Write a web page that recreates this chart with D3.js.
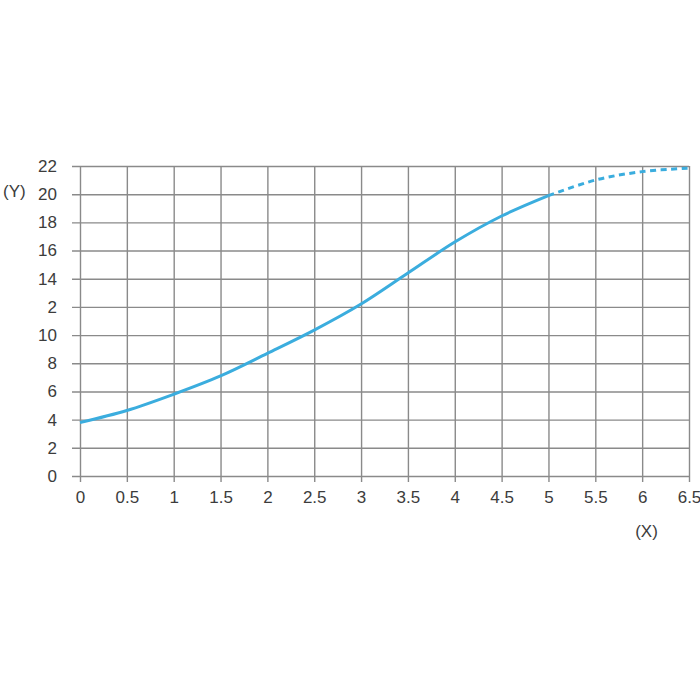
<!DOCTYPE html>
<html>
<head>
<meta charset="utf-8">
<script src="https://cdn.jsdelivr.net/npm/d3@7"></script>
<style>
  html, body { margin: 0; padding: 0; background: #fff; }
  text { font-family: "Liberation Sans", Arial, sans-serif; fill: #3c3c3c; }
</style>
</head>
<body>
<figure style="margin:0"></figure>
<script>
// values
const xs       = [0, 0.5, 1, 1.5, 2, 2.5, 3, 3.5, 4, 4.5, 5, 5.5, 6, 6.5]
const ys       = [3.8, 4.65, 5.8, 7.1, 8.7, 10.35, 12.2, 14.4, 16.6, 18.45, 19.9, 21.0, 21.6, 21.85]
const solidEnd = 5            // curve is dashed past this x
const xTicks   = [0, 0.5, 1, 1.5, 2, 2.5, 3, 3.5, 4, 4.5, 5, 5.5, 6, 6.5]
const yTicks   = [0, 2, 4, 6, 8, 10, 12, 14, 16, 18, 20, 22]
const yLabels  = ["0", "2", "4", "6", "8", "10", "2", "14", "16", "18", "20", "22"]

const margin = {top: 166, right: 11, bottom: 224, left: 80},
      width  = 700 - margin.left - margin.right,
      height = 700 - margin.top - margin.bottom,
      svG = d3.select('figure')
          .append("svg")
              .attr("width", 700)
              .attr("height", 700)
          .append("g")
              .attr("transform", "translate(" + margin.left + "," + margin.top + ")"),
      x = d3.scaleLinear().domain([0, 6.5]).range([0, width]),
      y = d3.scaleLinear().domain([0, 22]).range([height, 0]),
      valueLine = d3.line()
          .curve(d3.curveCatmullRom)
          .x(d => x(d.pos))
          .y(d => y(d.val)),
      data = xs.map((v, i) => ({pos: v, val: ys[i]}))

const gridColor = "#8a8a8a",
      fontSize  = 17

// vertical grid + bottom axis labels
const xAxis = svG.append('g')
    .attr("transform", "translate(0," + height + ")")
    .call(d3.axisBottom(x)
        .tickValues(xTicks)
        .tickSizeOuter(0)
        .tickFormat(d3.format("")))
xAxis.select(".domain").remove()
xAxis.selectAll(".tick line")
    .attr("y1", 6)
    .attr("y2", -height)
    .attr("stroke", gridColor)
    .attr("stroke-width", 1.4)
xAxis.selectAll(".tick text")
    .attr("y", 15)
    .attr("font-size", fontSize)
    .style("font-family", "'Liberation Sans', Arial, sans-serif")
    .attr("fill", "#3c3c3c")

// horizontal grid + left axis labels
const yAxis = svG.append('g')
    .call(d3.axisLeft(y)
        .tickValues(yTicks)
        .tickFormat((d, i) => yLabels[i]))
yAxis.select(".domain").remove()
yAxis.selectAll(".tick line")
    .attr("x1", -8)
    .attr("x2", width)
    .attr("stroke", gridColor)
    .attr("stroke-width", 1.4)
yAxis.selectAll(".tick text")
    .attr("x", -23)
    .attr("font-size", fontSize)
    .style("font-family", "'Liberation Sans', Arial, sans-serif")
    .attr("fill", "#3c3c3c")

// curve: solid part then dashed extrapolation
svG.append("path")
    .datum(data.filter(d => d.pos <= solidEnd))
    .attr("d", valueLine)
    .attr("stroke", "#3badde")
    .attr("stroke-width", 3)
    .attr("fill", "none")

svG.append("path")
    .datum(data.filter(d => d.pos >= solidEnd))
    .attr("d", valueLine)
    .attr("stroke", "#3badde")
    .attr("stroke-width", 3)
    .attr("stroke-dasharray", "6,4.5")
    .attr("fill", "none")

// axis names
svG.append("text")
    .attr("x", -77)
    .attr("y", y(20) + 3)
    .attr("font-size", fontSize)
    .text("(Y)")

svG.append("text")
    .attr("x", x(6) - 7)
    .attr("y", height + 61)
    .attr("font-size", fontSize)
    .text("(X)")
</script>
</body>
</html>
